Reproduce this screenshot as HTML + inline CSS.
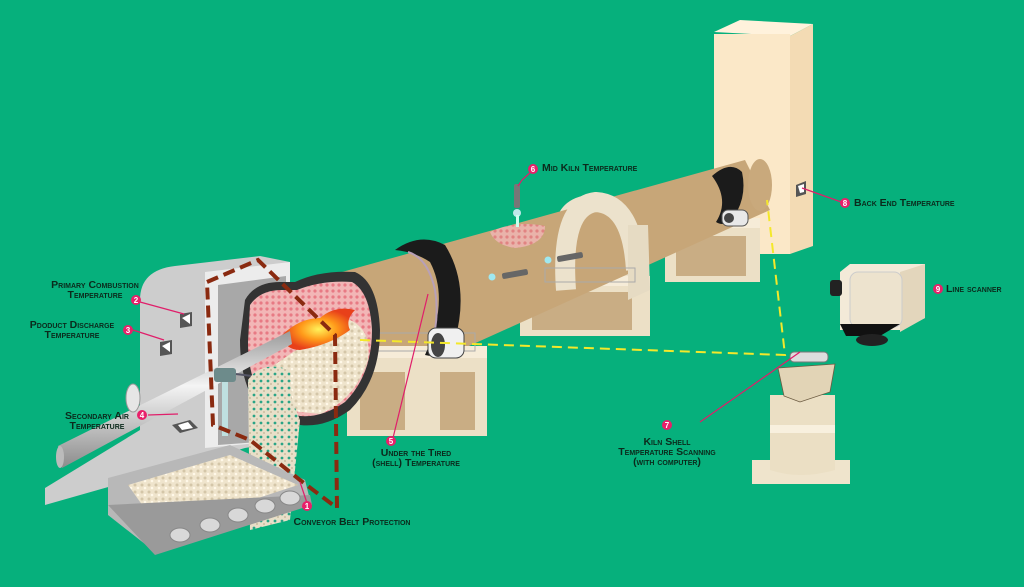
<!DOCTYPE html>
<html><head><meta charset="utf-8"><style>
html,body{margin:0;padding:0;background:#06b07c;}
svg{display:block;}
.t{font-family:"Liberation Sans",sans-serif;font-weight:bold;font-variant:small-caps;font-size:10.5px;fill:#0b2a1c;}
.n{font-family:"Liberation Sans",sans-serif;font-weight:bold;font-size:8px;fill:#fff;text-anchor:middle;}
</style></head><body>
<svg width="1024" height="587" viewBox="0 0 1024 587" xmlns="http://www.w3.org/2000/svg">
<defs>
<pattern id="mesh" width="6" height="6" patternUnits="userSpaceOnUse"><rect width="6" height="6" fill="#f2b6b6"/><circle cx="3" cy="3" r="1.6" fill="#e87a84"/></pattern>
<pattern id="grav" width="7" height="7" patternUnits="userSpaceOnUse"><rect width="7" height="7" fill="#efe4cc"/><circle cx="2" cy="2" r="1.5" fill="#d4c6a8"/><circle cx="5" cy="5" r="1.3" fill="#fff8e8"/></pattern>
<pattern id="fall" width="7" height="7" patternUnits="userSpaceOnUse"><rect width="7" height="7" fill="#e8dfc8"/><circle cx="2" cy="3" r="1.4" fill="#2aa486"/><circle cx="5" cy="6" r="1" fill="#c9bda0"/></pattern>
<linearGradient id="pipe" x1="0" y1="0" x2="0" y2="1"><stop offset="0" stop-color="#9a9a9a"/><stop offset=".4" stop-color="#f4f4f4"/><stop offset="1" stop-color="#8c8c8c"/></linearGradient>
<radialGradient id="fire"><stop offset="0" stop-color="#fff25a"/><stop offset=".5" stop-color="#ff9a1a"/><stop offset="1" stop-color="#e8401a"/></radialGradient>
</defs>

<polygon points="714,32 740,20 813,24 790,36" fill="#fff2dc"/>
<polygon points="790,36 813,24 813,246 790,254" fill="#f3dbb4"/>
<rect x="714" y="34" width="76" height="220" fill="#fbe8c8"/>
<polygon points="796,185 806,181 806,194 796,197" fill="#555"/>
<polygon points="798,186 804,184 804,192 800,193" fill="#fff"/>

<rect x="665" y="220" width="95" height="62" fill="#ece0c6"/>
<rect x="676" y="236" width="70" height="40" fill="#c9ad84"/>
<rect x="665" y="218" width="95" height="10" fill="#f6ecd8"/>

<path d="M550,300 L555,225 Q560,196 595,194 Q630,196 636,222 L645,300 Z" fill="#ece2cc"/>
<rect x="520" y="278" width="130" height="58" fill="#ece0c6"/>
<rect x="532" y="292" width="100" height="38" fill="#c9ad84"/>
<rect x="520" y="276" width="130" height="10" fill="#f6ecd8"/>

<polygon points="270,292 745,160 770,210 345,402" fill="#c7a678"/>
<ellipse cx="760" cy="185" rx="12" ry="26" fill="#c9a97c"/>
<path d="M566,290 Q560,206 596,202 Q632,204 636,270" fill="none" stroke="#ece2cc" stroke-width="20"/>
<polygon points="628,225 648,225 650,290 628,300" fill="#e6dbc3"/>
<rect x="545" y="268" width="90" height="14" fill="none" stroke="#aaa" stroke-width="1"/>

<path d="M712,176 Q730,160 742,172 Q748,200 730,222 Q722,226 716,222 Q730,200 712,176Z" fill="#1b1b1b"/>
<rect x="722" y="210" width="26" height="16" rx="6" fill="#e8e8e8" stroke="#555" stroke-width="1"/>
<circle cx="729" cy="218" r="5" fill="#444"/>

<path d="M490,232 Q515,220 545,226 Q545,245 515,248 Q495,245 490,232Z" fill="url(#mesh)" opacity=".8"/>
<rect x="514" y="184" width="6" height="24" rx="2" fill="#777"/>
<circle cx="517" cy="213" r="4" fill="#bfe8ea"/>
<rect x="516" y="215" width="3" height="12" fill="#cfe"/>
<rect x="502" y="271" width="26" height="6" rx="2" fill="#666" transform="rotate(-10 515 274)"/><circle cx="492" cy="277" r="3.5" fill="#9fe8f0"/>
<rect x="557" y="254" width="26" height="6" rx="2" fill="#666" transform="rotate(-10 570 257)"/><circle cx="548" cy="260" r="3.5" fill="#9fe8f0"/>

<rect x="347" y="350" width="140" height="86" fill="#ece0c6"/>
<rect x="360" y="372" width="45" height="58" fill="#c9ad84"/>
<rect x="440" y="372" width="35" height="58" fill="#c9ad84"/>
<rect x="347" y="346" width="140" height="12" fill="#f6ecd8"/>
<rect x="375" y="333" width="100" height="18" fill="none" stroke="#aaa" stroke-width="1"/>

<path d="M395,250 Q420,232 445,245 Q470,285 455,340 Q445,360 425,355 Q450,300 430,262 Q415,252 395,250Z" fill="#1b1b1b"/>
<path d="M408,252 Q428,258 435,290 Q440,320 430,350" fill="none" stroke="#b8a0b8" stroke-width="2"/>
<rect x="428" y="328" width="36" height="30" rx="8" fill="#f0f0f0" stroke="#444" stroke-width="1"/>
<ellipse cx="438" cy="345" rx="7" ry="12" fill="#444"/>

<path d="M140,300 Q140,270 175,266 L260,256 L290,262 L290,440 L245,448 L45,505 L45,488 L140,430Z" fill="#cdcdcd"/>
<polygon points="205,272 290,262 290,440 205,448" fill="#ececec"/>
<polygon points="218,285 286,276 286,440 218,445" fill="#a8a8a8"/>
<polygon points="180,314 192,312 192,326 180,328" fill="#555"/><polygon points="182,318 190,314 190,324" fill="#fff"/>
<polygon points="160,342 172,340 172,354 160,356" fill="#555"/><polygon points="162,346 170,342 170,352" fill="#fff"/>
<polygon points="172,425 190,420 198,428 180,433" fill="#555"/><polygon points="178,425 188,422 193,428 182,430" fill="#fff"/>

<path d="M245,300 Q255,282 280,282 L295,282 Q320,270 355,272 Q378,282 380,330 Q380,380 350,410 Q325,428 300,425 L265,415 Q240,390 240,340Z" fill="#333"/>
<path d="M250,305 Q260,290 282,290 L297,290 Q322,280 352,282 Q370,292 372,330 Q372,375 345,402 Q322,418 300,416 L270,408 Q248,385 248,342Z" fill="url(#mesh)"/>
<path d="M268,370 Q300,345 350,320 Q372,330 368,360 Q355,400 320,414 L282,410 Q262,395 268,370Z" fill="url(#grav)"/>
<path d="M282,335 Q300,318 320,318 Q335,305 355,310 Q345,320 350,330 Q330,345 300,350 Q285,350 282,335Z" fill="url(#fire)"/>

<polygon points="58,446 290,331 292,344 62,468" fill="url(#pipe)"/>
<ellipse cx="60" cy="457" rx="4" ry="11" fill="#bbb"/>
<ellipse cx="133" cy="398" rx="7" ry="14" fill="#e6e6e6" stroke="#999"/>
<rect x="222" y="378" width="6" height="58" fill="#bfe0e0"/>
<rect x="214" y="368" width="22" height="14" rx="3" fill="#6d8b8b"/>
<line x1="236" y1="374" x2="252" y2="376" stroke="#556" stroke-width="2"/>
<path d="M248,380 Q262,360 290,370 L292,400 L300,420 L290,520 L250,530 Z" fill="url(#fall)"/>

<polygon points="108,478 230,445 305,480 310,500 150,548 108,515" fill="#b8b8b8"/>
<polygon points="128,485 230,455 298,485 160,530" fill="url(#grav)"/>
<polygon points="108,505 310,495 312,505 155,555" fill="#9a9a9a"/>
<g fill="#d8d8d8" stroke="#888"><ellipse cx="180" cy="535" rx="10" ry="7"/><ellipse cx="210" cy="525" rx="10" ry="7"/><ellipse cx="238" cy="515" rx="10" ry="7"/><ellipse cx="265" cy="506" rx="10" ry="7"/><ellipse cx="290" cy="498" rx="10" ry="7"/></g>

<polyline points="207,282 258,260 335,335 337,508 300,480 250,440 213,425 207,282" fill="none" stroke="#8a2a10" stroke-width="4" stroke-dasharray="12,6"/>
<polyline points="360,340 785,355 767,200" fill="none" stroke="#f4e82a" stroke-width="2" stroke-dasharray="10,6"/>

<polygon points="840,272 850,264 925,264 925,318 900,330 840,330" fill="#f3ead8"/>
<polygon points="900,272 925,264 925,318 900,332" fill="#e3d6bc"/>
<rect x="850" y="272" width="52" height="55" rx="8" fill="#ede3ce" stroke="#ccc"/>
<rect x="830" y="280" width="12" height="16" rx="3" fill="#222"/>
<polygon points="840,324 900,324 880,336 846,336" fill="#111"/>
<ellipse cx="872" cy="340" rx="16" ry="6" fill="#222"/>

<rect x="752" y="460" width="98" height="24" fill="#efe4cc"/>
<path d="M770,395 L770,470 Q800,480 835,470 L835,395Z" fill="#ebdfc4"/>
<rect x="770" y="425" width="65" height="8" fill="#f8f0de"/>
<polygon points="778,368 835,364 830,392 800,402 784,396" fill="#e2d4b6" stroke="#6b5a40" stroke-width=".8"/>
<rect x="790" y="352" width="38" height="10" rx="4" fill="#ddd" stroke="#777"/>
<line x1="700" y1="422" x2="800" y2="352" stroke="#e01e6a" stroke-width="1.2"/>

<g stroke="#e01e6a" stroke-width="1.2" fill="none">
<line x1="140" y1="302" x2="184" y2="314"/>
<line x1="133" y1="330" x2="164" y2="340"/>
<line x1="148" y1="415" x2="178" y2="414"/>
<line x1="393" y1="438" x2="428" y2="294"/>
<polyline points="533,170 522,180 518,186"/>
<line x1="844" y1="203" x2="802" y2="188"/>
<line x1="307" y1="503" x2="300" y2="482"/>
</g>
<g fill="#e8206a">
<circle cx="136" cy="300" r="5"/><circle cx="128" cy="330" r="5"/><circle cx="142" cy="415" r="5"/>
<circle cx="391" cy="441" r="5"/><circle cx="533" cy="169" r="5"/><circle cx="845" cy="203" r="5"/>
<circle cx="938" cy="289" r="5"/><circle cx="307" cy="506" r="5"/><circle cx="667" cy="425" r="5"/>
</g>
<g class="n">
<text x="136" y="303">2</text><text x="128" y="333">3</text><text x="142" y="418">4</text>
<text x="391" y="444">5</text><text x="533" y="172">6</text><text x="845" y="206">8</text>
<text x="938" y="292">9</text><text x="307" y="509">1</text><text x="667" y="428">7</text>
</g>

<text class="t" x="95" y="288" text-anchor="middle">Primary Combustion</text>
<text class="t" x="95" y="298" text-anchor="middle">Temperature</text>
<text class="t" x="72" y="328" text-anchor="middle">Pdoduct Discharge</text>
<text class="t" x="72" y="338" text-anchor="middle">Temperature</text>
<text class="t" x="97" y="419" text-anchor="middle">Secondary Air</text>
<text class="t" x="97" y="429" text-anchor="middle">Temperature</text>
<text class="t" x="416" y="456" text-anchor="middle">Under the Tired</text>
<text class="t" x="416" y="466" text-anchor="middle">(shell) Temperature</text>
<text class="t" x="542" y="171">Mid Kiln Temperature</text>
<text class="t" x="854" y="206">Back End Temperature</text>
<text class="t" x="946" y="292">Line scanner</text>
<text class="t" x="667" y="445" text-anchor="middle">Kiln Shell</text>
<text class="t" x="667" y="455" text-anchor="middle">Temperature Scanning</text>
<text class="t" x="667" y="465" text-anchor="middle">(with computer)</text>
<text class="t" x="352" y="525" text-anchor="middle">Conveyor Belt Protection</text>
</svg>
</body></html>
